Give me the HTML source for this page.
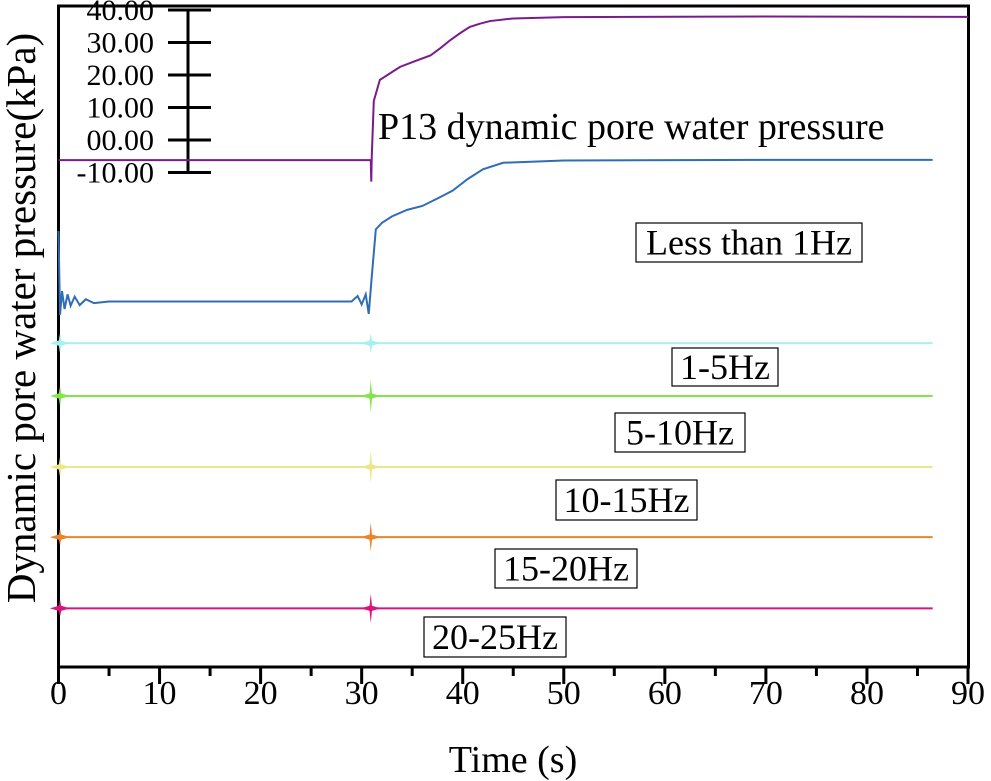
<!DOCTYPE html>
<html><head><meta charset="utf-8"><style>
body{margin:0;background:#fff}
svg{display:block;font-family:"Liberation Serif",serif}
</style></head><body>
<svg id="c" width="991" height="781"></svg>
<script>
const purpleT=[0,30.9,30.95,31.0,31.2,31.8,32.8,33.8,35.3,36.8,37.8,38.8,39.8,40.7,41.7,42.7,45,50,70,90];
const purpleV=[-6.2,-6.2,-12.8,-5,12,18.5,20.5,22.5,24.3,26,28.3,30.8,33,34.8,35.8,36.6,37.4,37.8,38.0,37.9];
const blueT=[0,0.15,0.35,0.6,0.9,1.2,1.6,2.1,2.7,3.5,5,29,29.6,30,30.4,30.7,31.0,31.4,32,33,34.5,36,37.5,39,40.5,42,44,50,70,86.5];
const blueV=[-28,-53.8,-46.5,-52,-47.5,-51,-48.2,-50.8,-49,-50.2,-49.7,-49.7,-48,-50.6,-47.5,-53.5,-42,-27.5,-25.5,-23.5,-21.5,-20.3,-18,-15.6,-12,-9,-7,-6.3,-6.1,-6.1];
const flatNames=["1-5Hz","5-10Hz","10-15Hz","15-20Hz","20-25Hz"];
const flatColors=["#a8f0f0","#84e44c","#ece68a","#e8862a","#d6157f"];
const flatV=[-62.5,-78.75,-100.6,-122.2,-144.1];
const burstStart=[3,3,3,2.5,2.5];
const burstMid=[3,5,5,4.5,4.5];
const xTicks=[0,10,20,30,40,50,60,70,80,90];
const scaleTicks=[40,30,20,10,0,-10];
const scaleLabels=["40.00","30.00","20.00","10.00","00.00","-10.00"];

const svg=document.getElementById('c');
const NS='http://www.w3.org/2000/svg';
const X=t=>58.5+t*(968-58.5)/90;
const Y=v=>140-3.25*v;
function el(tag,attrs,parent){const e=document.createElementNS(NS,tag);for(const k in attrs)e.setAttribute(k,attrs[k]);(parent||svg).appendChild(e);return e;}
function txt(s,attrs){const e=el('text',attrs);e.textContent=s;return e;}

let f=el('rect',{x:58.5,y:6,width:910,height:661,fill:'none',stroke:'#000','stroke-width':3});



xTicks.forEach((t,i)=>{
  const tk=el('line',{x1:X(t),x2:X(t),y1:667,y2:684,stroke:'#000','stroke-width':3});
  
  
  if(i<xTicks.length-1){const m=el('line',{x1:X(t+5),x2:X(t+5),y1:667,y2:676,stroke:'#000','stroke-width':3});
    
    }
  const l=txt(String(t),{x:X(t),y:704,'font-size':34,'text-anchor':'middle'});
  
  
});
let xt=txt('Time (s)',{x:513,y:772,'font-size':38,'text-anchor':'middle'});


let yt=txt('Dynamic pore water pressure(kPa)',{x:0,y:0,'font-size':41,'text-anchor':'middle',transform:'translate(35,318) rotate(-90)'});



let sb=el('line',{x1:188,x2:188,y1:Y(40),y2:Y(-10),stroke:'#000','stroke-width':3});


scaleTicks.forEach((v,i)=>{
  const t=el('line',{x1:168,x2:211,y1:Y(v),y2:Y(v),stroke:'#000','stroke-width':3});
  
  
  const l=txt(scaleLabels[i],{x:154,y:Y(v)+10,'font-size':30,'text-anchor':'end'});
  
  
});

function line(T,V,color,name){
  const p=el('polyline',{points:T.map((t,i)=>X(t)+','+Y(V[i])).join(' '),fill:'none',stroke:color,'stroke-width':2});
  
  
}
line(purpleT,purpleV,'#7b1a8c','p13-raw-series');
line(blueT,blueV,'#2f6db5','less-than-1hz-series');

flatV.forEach((v,i)=>{
  const p=el('line',{x1:X(0),x2:X(86.5),y1:Y(v),y2:Y(v),stroke:flatColors[i],'stroke-width':2});
  
  
  [[0.15,burstStart[i]],[30.9,burstMid[i]]].forEach(([t,a])=>{
    const b=el('polygon',{points:`${X(t-1)},${Y(v)} ${X(t-0.12)},${Y(v+0.8)} ${X(t)},${Y(v+a)} ${X(t+0.12)},${Y(v+0.8)} ${X(t+1)},${Y(v)} ${X(t+0.12)},${Y(v-0.8)} ${X(t)},${Y(v-a)} ${X(t-0.12)},${Y(v-0.8)}`,fill:flatColors[i]});
    
    
  });
});

let pl=txt('P13 dynamic pore water pressure',{x:378,y:139,'font-size':38});



const boxes=[["Less than 1Hz",636,223,226,39],["1-5Hz",672,348,106,38],["5-10Hz",615,413,130,39],["10-15Hz",556,480,141,40],["15-20Hz",495,549,142,39],["20-25Hz",424,617,142,40]];
boxes.forEach(([s,x,y,w,h])=>{
  const r=el('rect',{x,y,width:w,height:h,fill:'#fff',stroke:'#000','stroke-width':1.2});
  
  
  const t=txt(s,{x:x+w/2,y:y+h/2+12,'font-size':36,'text-anchor':'middle'});
  
  
});
</script>
</body></html>
